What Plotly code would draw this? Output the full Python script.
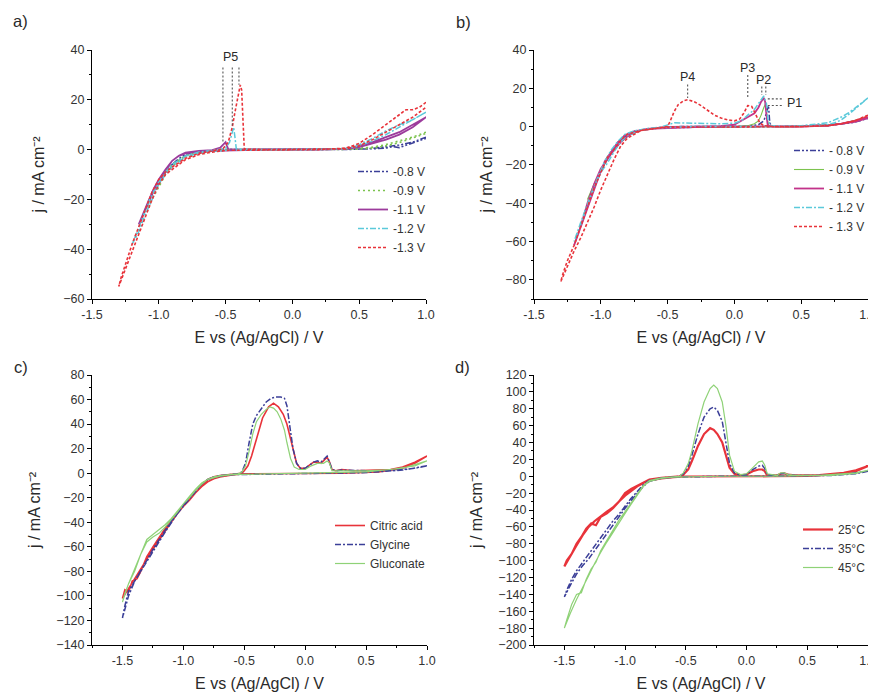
import plotly.graph_objects as go

# ---------------- data ----------------
# Panel a
a_labels = ["-0.8 V", "-0.9 V", "-1.1 V", "-1.2 V", "-1.3 V"]
a_m08_E = [1.00, 0.90, 0.80, 0.70, 0.60, 0.50, 0.40, 0.00, -0.40, -0.60, -0.70, -0.80, -0.90, -0.95, -1.00,
           -0.96, -0.92, -0.87, -0.82, -0.75, -0.60, -0.50, 0.00, 0.50, 0.60, 0.70, 0.75, 0.80, 0.85, 0.90, 0.95, 1.00]
a_m08_j = [5, 3, 1.8, 1, 0.5, 0.2, 0, 0, 0, -0.6, -1.2, -2.5, -6, -9, -13,
           -10, -7, -4.5, -2.5, -1.2, -0.4, 0, 0, 0, 0.3, 0.6, 1.2, 0.8, 1.8, 2.5, 3.5, 4.5]
a_m09_E = [1.00, 0.90, 0.80, 0.70, 0.60, 0.50, 0.40, 0.00, -0.40, -0.60, -0.70, -0.80, -0.90, -0.95, -1.00, -1.05, -1.10,
           -1.05, -1.00, -0.95, -0.90, -0.80, -0.70, -0.60, -0.50, 0.00, 0.50, 0.60, 0.70, 0.80, 0.90, 1.00]
a_m09_j = [7, 5, 3.5, 2, 1, 0.4, 0.1, 0, 0, -0.6, -1.2, -2.5, -6, -9, -13, -18, -24,
           -20, -15, -10, -6.5, -2.5, -1, -0.4, 0, 0, 0.2, 0.6, 1.5, 2.8, 4.5, 6.5]
a_m11_E = [1.00, 0.90, 0.80, 0.70, 0.60, 0.50, 0.40, 0.20, -0.20, -0.50, -0.60, -0.70, -0.75, -0.80, -0.85, -0.90, -0.95,
           -1.00, -1.05, -1.10, -1.15, -1.12, -1.08, -1.04, -1.00, -0.95, -0.90, -0.85, -0.80, -0.70, -0.60, -0.54,
           -0.52, -0.50, -0.49, -0.48, -0.40, 0.00, 0.40, 0.50, 0.60, 0.70, 0.80, 0.90, 1.00]
a_m11_j = [13, 9, 6, 4, 2.5, 1, 0.3, 0, 0, -0.2, -0.5, -0.8, -1, -1.5, -2.5, -4.5, -8.5,
           -13, -18, -24, -30, -26, -21, -16, -12, -8, -4.5, -2.5, -1.2, -0.5, -0.2, 0.8,
           1.8, 3, 1.5, 0.2, 0, 0, 0.3, 1.5, 3, 5, 7, 10, 13]
a_m12_E = [1.00, 0.90, 0.80, 0.70, 0.60, 0.50, 0.40, 0.20, -0.20, -0.50, -0.60, -0.70, -0.80, -0.90, -0.95, -1.00,
           -1.05, -1.10, -1.15, -1.20, -1.17, -1.12, -1.06, -1.00, -0.95, -0.90, -0.80, -0.70, -0.60, -0.50,
           -0.47, -0.45, -0.44, -0.43, -0.42, -0.30, 0.00, 0.40, 0.50, 0.60, 0.70, 0.80, 0.90, 1.00]
a_m12_j = [15, 12, 10, 7.5, 4.5, 2, 0.5, 0, 0, -0.3, -0.8, -1.5, -3, -7, -10, -14,
           -20, -26, -33, -38, -34, -27, -19, -13, -9, -6, -2.5, -1, -0.4, 0.5,
           3, 7, 9, 5, 0.3, 0, 0, 0.3, 1.5, 3.5, 6, 9, 12, 15]
a_m13_E = [1.00, 0.95, 0.90, 0.85, 0.80, 0.70, 0.60, 0.50, 0.40, 0.20, 0.00, -0.30, -0.50, -0.60, -0.70, -0.80,
           -0.90, -0.95, -1.00, -1.05, -1.10, -1.15, -1.20, -1.25, -1.30, -1.28, -1.25, -1.20, -1.15, -1.10,
           -1.05, -1.00, -0.95, -0.90, -0.80, -0.70, -0.60, -0.52, -0.48, -0.45, -0.43, -0.41, -0.39, -0.38,
           -0.37, -0.36, -0.20, 0.20, 0.40, 0.50, 0.60, 0.70, 0.80, 0.90, 0.95, 1.00]
a_m13_j = [19, 17, 16, 16, 14, 10, 6, 2.5, 0.6, 0, 0, 0, -0.3, -1, -2, -4,
           -8, -10, -14, -20, -27, -34, -41, -48, -55, -51, -46, -38, -31, -24,
           -17, -12, -9, -7, -3.5, -1.5, -0.6, 0.3, 3, 9, 15, 21, 26, 24,
           8, 0.2, 0, 0, 0.3, 1.5, 4, 7, 10, 13, 15, 17]
a_peak_label = ["P5"]
a_peak_label_E = [-0.46]
a_peak_label_j = [37]
a_guide_E = [-0.52, -0.45, -0.40]
a_guide_top = [33, 33, 33]
a_guide_bottom = [3, 9, 26]

# Panel b
b_labels = ["- 0.8 V", "- 0.9 V", "- 1.1 V", "- 1.2 V", "- 1.3 V"]
b_m08_E = [1.00, 0.80, 0.50, 0.00, -0.50, -0.60, -0.70, -0.75, -0.80, -0.85, -0.90, -0.95, -1.00,
           -0.96, -0.92, -0.87, -0.82, -0.75, -0.60, -0.40, 0.00, 0.10, 0.18, 0.22, 0.24, 0.255, 0.265,
           0.28, 0.40, 0.70, 0.90, 1.00]
b_m08_j = [4.5, 1.3, 0.2, 0, -0.5, -1, -1.8, -3, -5, -8, -12, -17, -23,
           -18, -13, -8.5, -5, -2.5, -0.8, 0, 0, 0.2, 1, 3, 7, 11, 2,
           0, 0, 0.5, 2.3, 4.3]
b_m09_E = [1.00, 0.80, 0.50, 0.00, -0.50, -0.60, -0.70, -0.75, -0.80, -0.85, -0.90, -0.95, -1.00, -1.05, -1.10,
           -1.06, -1.02, -0.97, -0.92, -0.87, -0.82, -0.75, -0.60, -0.40, 0.00, 0.10, 0.15, 0.18, 0.20, 0.22,
           0.235, 0.245, 0.26, 0.40, 0.70, 0.90, 1.00]
b_m09_j = [5, 1.5, 0.2, 0, -0.5, -1, -1.8, -3, -5, -8, -12, -17, -23, -30, -38,
           -33, -26, -19, -13, -8, -4.5, -2.5, -0.8, 0, 0, 0.5, 1.5, 3, 6, 10,
           12, 4, 0, 0, 0.5, 2.5, 4.5]
b_m11_E = [1.00, 0.90, 0.80, 0.70, 0.50, 0.30, 0.00, -0.30, -0.50, -0.60, -0.70, -0.75, -0.80, -0.85, -0.90,
           -0.95, -1.00, -1.05, -1.10, -1.15, -1.20, -1.17, -1.12, -1.07, -1.02, -0.97, -0.92, -0.87, -0.82,
           -0.75, -0.65, -0.50, -0.30, -0.10, 0.00, 0.05, 0.10, 0.15, 0.18, 0.20, 0.22, 0.23, 0.24, 0.25,
           0.30, 0.50, 0.70, 0.90, 1.00]
b_m11_j = [5, 3, 1.5, 0.7, 0.2, 0, 0, -0.2, -0.5, -1, -1.8, -3, -5, -8, -12,
           -17, -22, -30, -40, -52, -62, -56, -46, -36, -27, -18, -13, -8, -4.5,
           -2.5, -1.2, -0.2, 0, 0.2, 1, 3, 5, 7, 10, 13, 15, 13, 6, 0.5,
           0, 0, 0.5, 2.5, 4.5]
b_m12_E = [1.00, 0.95, 0.90, 0.85, 0.80, 0.75, 0.70, 0.50, 0.30, 0.00, -0.30, -0.50, -0.60, -0.70, -0.80,
           -0.85, -0.90, -0.95, -1.00, -1.05, -1.10, -1.15, -1.20, -1.17, -1.12, -1.07, -1.02, -0.97, -0.92,
           -0.87, -0.82, -0.75, -0.65, -0.55, -0.50, -0.45, -0.30, -0.10, 0.00, 0.05, 0.10, 0.15, 0.19, 0.22,
           0.24, 0.25, 0.27, 0.40, 0.60, 0.70, 0.75, 0.80, 0.85, 0.90, 0.95, 1.00]
b_m12_j = [15, 12, 9.5, 7, 5, 3.5, 2, 0.5, 0, 0, 0, -0.4, -1, -2, -4.5,
           -8, -13, -19, -24, -31, -40, -50, -60, -55, -45, -35, -26, -18, -12,
           -7.5, -4, -2.2, -1, -0.2, 1, 2, 1.8, 1.5, 1.8, 3, 6, 9, 13, 16,
           12, 4, 0.5, 0, 0.3, 1, 2, 3.5, 6, 9, 12, 15]
b_m13_E = [1.00, 0.90, 0.80, 0.70, 0.50, 0.30, 0.00, -0.30, -0.50, -0.60, -0.70, -0.80, -0.85, -0.90, -0.95,
           -1.00, -1.05, -1.10, -1.15, -1.20, -1.25, -1.30, -1.28, -1.25, -1.20, -1.15, -1.10, -1.05, -1.00,
           -0.95, -0.90, -0.85, -0.80, -0.70, -0.60, -0.50, -0.48, -0.45, -0.42, -0.38, -0.35, -0.30, -0.25,
           -0.20, -0.15, -0.10, -0.05, 0.00, 0.04, 0.07, 0.10, 0.13, 0.16, 0.19, 0.22, 0.30, 0.50, 0.70,
           0.80, 0.90, 1.00]
b_m13_j = [6, 3, 1.5, 0.5, 0, 0, 0, 0, -0.3, -1, -2, -6, -10, -17, -25,
           -33, -42, -50, -58, -65, -73, -81, -76, -70, -62, -52, -42, -32, -24,
           -16, -12, -7, -4, -2, -1, 0, 3, 8, 11.5, 13.5, 14, 13, 11,
           8.5, 6, 4.5, 3.5, 3, 4, 7, 11, 10.5, 6, 2, 0.5, 0, 0, 0.5,
           1.5, 3, 5.5]
b_peak_label = ["P4", "P3", "P2", "P1"]
b_peak_label_E = [-0.35, 0.10, 0.22, 0.45]
b_peak_label_j = [26, 30.5, 24.5, 12.5]
b_vguide_E = [-0.35, 0.10, 0.205, 0.235]
b_vguide_top = [22, 27, 21, 21]
b_vguide_bottom = [15, 15, 16.5, 16.5]
b_hguide_j = [14.5, 11]
b_hguide_start = [0.25, 0.25]
b_hguide_end = [0.37, 0.37]

# Panel c
c_labels = ["Citric acid", "Glycine", "Gluconate"]
c_cit_E = [1.00, 0.90, 0.80, 0.60, 0.30, 0.00, -0.30, -0.50, -0.60, -0.70, -0.75, -0.80, -0.85, -0.90, -0.95,
           -1.00, -1.05, -1.10, -1.15, -1.20, -1.25, -1.30, -1.35, -1.40, -1.45, -1.50,
           -1.48, -1.45, -1.42, -1.38, -1.35, -1.30, -1.25, -1.20, -1.15, -1.10, -1.05, -1.00, -0.95, -0.90,
           -0.85, -0.80, -0.75, -0.70, -0.60, -0.55, -0.52, -0.50, -0.47, -0.44, -0.40, -0.35, -0.30, -0.26,
           -0.22, -0.18, -0.15, -0.12, -0.10, -0.07, -0.04, 0.00, 0.04, 0.07, 0.10, 0.13, 0.16, 0.18, 0.20,
           0.22, 0.25, 0.30, 0.40, 0.60, 0.70, 0.80, 0.90, 1.00]
c_cit_j = [14, 8, 4, 1, 0, 0, 0, -0.5, -1.5, -3, -4.5, -7, -11, -16, -21,
           -27, -33, -40, -47, -54, -62, -70, -78, -86, -93, -102,
           -95, -97, -88, -86, -80, -68, -60, -52, -45, -39, -33, -27, -22, -16,
           -10, -5, -3, -2, -1, -0.5, 0, 2, 6, 14, 28, 45, 54, 57,
           54, 48, 40, 28, 18, 8, 4, 4, 7, 9, 9, 8, 11, 13, 9,
           3, 2, 3, 2, 2.5, 3, 5, 9, 14]
c_gly_E = [1.00, 0.80, 0.50, 0.00, -0.50, -0.60, -0.70, -0.75, -0.80, -0.85, -0.90, -0.95, -1.00, -1.05, -1.10,
           -1.15, -1.20, -1.25, -1.30, -1.35, -1.40, -1.45, -1.50,
           -1.48, -1.45, -1.40, -1.35, -1.30, -1.25, -1.20, -1.15, -1.10, -1.05, -1.00, -0.95, -0.90, -0.85,
           -0.80, -0.75, -0.70, -0.60, -0.55, -0.52, -0.49, -0.46, -0.43, -0.40, -0.36, -0.32, -0.28, -0.24,
           -0.20, -0.17, -0.15, -0.13, -0.10, -0.07, -0.04, 0.00, 0.04, 0.07, 0.10, 0.13, 0.16, 0.18, 0.20,
           0.22, 0.25, 0.30, 0.50, 0.70, 0.90, 1.00]
c_gly_j = [6, 2.5, 0.5, 0, -0.5, -1.2, -2.5, -3.5, -5, -9, -14, -20, -26, -33, -40,
           -48, -56, -64, -72, -80, -88, -100, -118,
           -108, -96, -88, -80, -71, -62, -54, -46, -39, -33, -27, -21, -15, -9,
           -5, -3, -2, -1, -0.5, 1, 8, 25, 40, 47, 53, 58, 61, 62,
           62, 61, 55, 42, 20, 8, 4, 4, 7, 9, 10, 9, 12, 14, 9,
           3, 2, 2.5, 2, 2, 4, 6]
c_glu_E = [1.00, 0.80, 0.50, 0.00, -0.50, -0.60, -0.70, -0.75, -0.80, -0.85, -0.90, -0.95, -1.00, -1.05, -1.10,
           -1.15, -1.20, -1.25, -1.30, -1.35, -1.40, -1.45, -1.50,
           -1.48, -1.45, -1.40, -1.35, -1.30, -1.25, -1.20, -1.15, -1.10, -1.05, -1.00, -0.95, -0.90, -0.85,
           -0.80, -0.75, -0.70, -0.60, -0.55, -0.52, -0.49, -0.46, -0.43, -0.40, -0.36, -0.32, -0.29, -0.26,
           -0.23, -0.20, -0.17, -0.15, -0.12, -0.09, -0.05, 0.00, 0.05, 0.10, 0.15, 0.18, 0.20, 0.22, 0.30,
           0.50, 0.70, 0.90, 1.00]
c_glu_j = [10, 4, 1, 0, -0.5, -1.2, -2.5, -3.5, -5, -8, -13, -19, -25, -32, -38,
           -44, -49, -52, -56, -66, -78, -90, -105,
           -98, -90, -80, -66, -54, -50, -46, -42, -37, -31, -25, -20, -14, -9,
           -5, -3, -2, -1, -0.5, 1, 6, 18, 32, 42, 48, 52, 54, 53,
           50, 44, 35, 25, 12, 5, 3, 3, 6, 8, 8, 10, 8, 2, 2,
           2, 3, 6, 10]

# Panel d
d_labels = ["25°C", "35°C", "45°C"]
d_neg_E = [1.00, 0.90, 0.70, 0.50, 0.20, -0.20, -0.50, -0.60, -0.70, -0.80, -0.85, -0.90, -0.95, -1.00, -1.05,
           -1.10, -1.15, -1.20, -1.25, -1.30, -1.35, -1.40, -1.45, -1.50]
d_pos_E = [-1.48, -1.44, -1.40, -1.36, -1.32, -1.28, -1.24, -1.20, -1.15, -1.10, -1.05, -1.00, -0.95, -0.90,
           -0.85, -0.80, -0.70, -0.60, -0.55, -0.52, -0.48, -0.45, -0.40, -0.35, -0.30, -0.27, -0.24, -0.20,
           -0.17, -0.14, -0.10, -0.05, 0.00, 0.05, 0.10, 0.13, 0.15, 0.17, 0.25, 0.28, 0.31, 0.34, 0.40,
           0.60, 0.80, 0.90, 1.00]
d_25_neg_j = [12, 6, 2, 0.5, 0, 0, -0.3, -1, -2.5, -5, -8, -12, -17, -23, -30,
              -37, -42, -47, -53, -60, -70, -82, -95, -107]
d_25_pos_j = [-100, -92, -80, -72, -62, -56, -58, -48, -44, -38, -30, -20, -15, -11,
              -7, -4, -2, -1, 0, 2, 8, 18, 36, 50, 57, 55, 50, 40,
              25, 10, 3, 1, 2, 6, 8, 8, 6, 1, 1, 3, 3.5, 2, 1,
              1.5, 4, 7, 12]
d_35_neg_j = [6, 3, 1, 0.3, 0, 0, -0.3, -1, -2.5, -6, -12, -20, -29, -38, -48,
              -57, -67, -78, -88, -98, -106, -116, -129, -143]
d_35_pos_j = [-135, -122, -112, -104, -96, -88, -80, -72, -62, -53, -45, -35, -26, -18,
              -10, -5, -2, -1, 0, 3, 12, 25, 50, 70, 80, 82, 78, 65,
              40, 15, 4, 1.5, 2, 8, 12, 13, 9, 2, 1, 3, 3.5, 2, 1,
              1, 2.5, 4, 6]
d_45_neg_j = [7, 3.5, 1, 0.3, 0, 0, -0.3, -1, -2.5, -6, -12, -22, -33, -44, -55,
              -66, -78, -90, -103, -118, -132, -146, -162, -180]
d_45_pos_j = [-170, -152, -140, -138, -122, -110, -102, -88, -76, -64, -52, -42, -31, -21,
              -11, -5, -2, -1, 0, 4, 15, 30, 62, 88, 104, 108, 104, 88,
              60, 25, 6, 2, 3, 10, 17, 18, 13, 3, 1, 4, 4, 2, 1,
              1, 2.5, 4, 7]

# ---------------- styles ----------------
NAVY = "#3b3f98"
GREEN = "#7cc34e"
LGREEN = "#8fd277"
PURPLE = "#9c3b9c"
MAGENTA = "#c2338a"
CYAN = "#5bc9da"
RED = "#e8333a"
FONT = "Liberation Sans, Arial, sans-serif"
GUIDE = "#555555"
TXT = "#2a2a2a"

# the page body adds an 8 px margin, so the figure is drawn 8 px in from the corner
OFF = 8
W, H = 876 - OFF, 693 - OFF


def px(x):
    return (x - OFF) / W


def py(y):
    return 1 - (y - OFF) / H


fig = go.Figure()

a_series = [
    (a_m08_E, a_m08_j, NAVY, "6px,2px,2px,2px,2px,2px", 1.5),
    (a_m09_E, a_m09_j, GREEN, "2px,3px", 1.6),
    (a_m11_E, a_m11_j, PURPLE, "solid", 1.8),
    (a_m12_E, a_m12_j, CYAN, "6px,2px,2px,2px", 1.5),
    (a_m13_E, a_m13_j, RED, "3px,2px", 1.6),
]
for lab, (e, j, col, dash, w) in zip(a_labels, a_series):
    fig.add_trace(go.Scatter(x=e, y=j, mode="lines", name=lab, xaxis="x", yaxis="y",
                             line=dict(color=col, dash=dash, width=w), legend="legend"))

b_series = [
    (b_m08_E, b_m08_j, NAVY, "6px,2px,2px,2px,2px,2px", 1.5),
    (b_m09_E, b_m09_j, GREEN, "solid", 1.1),
    (b_m11_E, b_m11_j, MAGENTA, "solid", 1.8),
    (b_m12_E, b_m12_j, CYAN, "6px,2px,2px,2px", 1.5),
    (b_m13_E, b_m13_j, RED, "3px,2px", 1.6),
]
for lab, (e, j, col, dash, w) in zip(b_labels, b_series):
    fig.add_trace(go.Scatter(x=e, y=j, mode="lines", name=lab, xaxis="x2", yaxis="y2",
                             line=dict(color=col, dash=dash, width=w), legend="legend2"))

c_series = [
    (c_cit_E, c_cit_j, RED, "solid", 1.6),
    (c_gly_E, c_gly_j, NAVY, "6px,2px,2px,2px", 1.5),
    (c_glu_E, c_glu_j, LGREEN, "solid", 1.2),
]
for lab, (e, j, col, dash, w) in zip(c_labels, c_series):
    fig.add_trace(go.Scatter(x=e, y=j, mode="lines", name=lab, xaxis="x3", yaxis="y3",
                             line=dict(color=col, dash=dash, width=w), legend="legend3"))

d_series = [
    (d_25_neg_j, d_25_pos_j, RED, "solid", 2.2),
    (d_35_neg_j, d_35_pos_j, NAVY, "6px,2px,2px,2px", 1.5),
    (d_45_neg_j, d_45_pos_j, LGREEN, "solid", 1.2),
]
for lab, (jn, jp, col, dash, w) in zip(d_labels, d_series):
    fig.add_trace(go.Scatter(x=d_neg_E + d_pos_E, y=jn + jp, mode="lines", name=lab, xaxis="x4", yaxis="y4",
                             line=dict(color=col, dash=dash, width=w), legend="legend4"))

# peak guide lines (dotted)
gx, gy = [], []
for e, t, b in zip(a_guide_E, a_guide_top, a_guide_bottom):
    gx += [e, e, None]
    gy += [t, b, None]
fig.add_trace(go.Scatter(x=gx, y=gy, mode="lines", showlegend=False, xaxis="x", yaxis="y",
                         line=dict(color=GUIDE, dash="2px,2px", width=1.1), hoverinfo="skip"))
gx, gy = [], []
for e, t, b in zip(b_vguide_E, b_vguide_top, b_vguide_bottom):
    gx += [e, e, None]
    gy += [t, b, None]
for jj, s, en in zip(b_hguide_j, b_hguide_start, b_hguide_end):
    gx += [s, en, None]
    gy += [jj, jj, None]
fig.add_trace(go.Scatter(x=gx, y=gy, mode="lines", showlegend=False, xaxis="x2", yaxis="y2",
                         line=dict(color=GUIDE, dash="2px,2px", width=1.1), hoverinfo="skip"))

annotations = []
for t, e, j in zip(a_peak_label, a_peak_label_E, a_peak_label_j):
    annotations.append(dict(text=t, x=e, y=j, xref="x", yref="y", showarrow=False,
                            font=dict(size=12.5, color=TXT, family=FONT)))
for t, e, j in zip(b_peak_label, b_peak_label_E, b_peak_label_j):
    annotations.append(dict(text=t, x=e, y=j, xref="x2", yref="y2", showarrow=False,
                            font=dict(size=12.5, color=TXT, family=FONT)))
for t, (x, y) in zip(["a)", "b)", "c)", "d)"], [(20, 21), (464, 22), (21, 367), (462, 367)]):
    annotations.append(dict(text=t, x=px(x), y=py(y), xref="paper", yref="paper", showarrow=False,
                            xanchor="center", yanchor="middle", font=dict(size=16.5, color=TXT, family=FONT)))

XTITLE = "E vs (Ag/AgCl) / V"
YTITLE = "j / mA cm⁻²"
TICKFONT = dict(size=12.5, color="#333333", family=FONT)
TITLEFONT = dict(size=16, color=TXT, family=FONT)


def xax(domain, rng, anchor, standoff):
    return dict(domain=domain, range=rng, anchor=anchor, showline=True, linecolor="black", linewidth=1,
                showgrid=False, zeroline=False, ticks="outside", ticklen=4, tickcolor="black",
                tickvals=[-1.5, -1.0, -0.5, 0.0, 0.5, 1.0], ticktext=["-1.5", "-1.0", "-0.5", "0.0", "0.5", "1.0"],
                minor=dict(ticks="outside", ticklen=2, tickcolor="black", dtick=0.25, tick0=0, showgrid=False),
                tickfont=TICKFONT, automargin=False, ticklabeloverflow="allow",
                title=dict(text=XTITLE, font=TITLEFONT, standoff=standoff))


def yax(domain, rng, anchor, standoff, d=20):
    return dict(domain=domain, range=rng, anchor=anchor, showline=True, linecolor="black", linewidth=1,
                showgrid=False, zeroline=False, ticks="outside", ticklen=4, tickcolor="black", dtick=d, tick0=0,
                minor=dict(ticks="outside", ticklen=2, tickcolor="black", dtick=d / 2, tick0=0, showgrid=False),
                tickfont=TICKFONT, automargin=False, ticklabeloverflow="allow",
                title=dict(text=YTITLE, font=TITLEFONT, standoff=standoff))


def legend(x, y):
    return dict(x=px(x), y=py(y), xanchor="left", yanchor="top", bgcolor="rgba(0,0,0,0)",
                font=dict(size=12, color="#333333", family=FONT), itemwidth=30, tracegroupgap=0,
                borderwidth=0)


fig.update_layout(
    width=W, height=H, margin=dict(l=0, r=0, t=0, b=0),
    paper_bgcolor="white", plot_bgcolor="white",
    font=dict(family=FONT),
    xaxis=xax([px(92), px(426)], [-1.5, 1.0], "y", 10),
    yaxis=yax([py(299), py(50)], [-60, 40], "x", 14),
    xaxis2=xax([px(534), px(868)], [-1.5, 1.0], "y2", 10),
    yaxis2=yax([py(299), py(50)], [-90, 40], "x2", 8),
    xaxis3=xax([px(92), px(427)], [-1.75, 1.0], "y3", 10),
    yaxis3=yax([py(645), py(375)], [-140, 80], "x3", 11),
    xaxis4=xax([px(534), px(868)], [-1.75, 1.0], "y4", 10),
    yaxis4=yax([py(645), py(375)], [-200, 120], "x4", 11),
    legend=legend(353, 157),
    legend2=legend(789, 136),
    legend3=legend(330, 511),
    legend4=legend(798, 515),
    annotations=annotations,
    showlegend=True,
)

fig.write_html("out.html")
